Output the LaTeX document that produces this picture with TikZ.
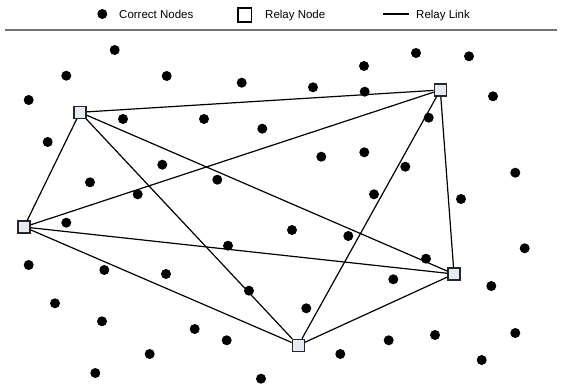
\documentclass[tikz,border=0pt]{standalone}
\usepackage{fontspec}
\setmainfont{Liberation Sans}
\begin{document}
\begin{tikzpicture}[x=1pt,y=-1pt,
  dot/.style={circle,fill=black,minimum size=10pt,inner sep=0pt},
  relay/.style={rectangle,draw=black!85,line width=1.2pt,fill={rgb,255:red,229;green,235;blue,245},minimum size=12pt,inner sep=0pt},
  legsq/.style={rectangle,draw=black,line width=1.7pt,fill=white,minimum size=13.5pt,inner sep=0pt},
  link/.style={line width=1.2pt,black},
  lab/.style={anchor=base west,inner sep=0pt,font=\fontsize{11.5}{14}\selectfont}]
\useasboundingbox (0,0) rectangle (561,387);
% legend
\node[dot] (ld) at (102.3,14) {};
\node[lab] (lt1) at (119,18.8) {Correct Nodes};
\node[legsq] (ls) at (244.7,15) {};
\node[lab] (lt2) at (265,18.8) {Relay Node};
\coordinate (la) at (383,14);
\coordinate (lb) at (409,14);
\draw[link] (la) -- (lb);
\node[lab] (lt3) at (416,18.8) {Relay Link};
\coordinate (sa) at (5,30);
\coordinate (sb) at (557,30);
\draw[line width=1.6pt,black!55] (sa) -- (sb);
% correct nodes
\foreach \x/\y [count=\i] in {114.7/50,66.3/75.7,166.7/76,241.7/82.7,28.7/100,123/119,204/119,262.3/128.7,47.7/142,162.3/164.7,90/182.3,217.3/179.7,137.7/194.3,
416/53,469/56.3,364/66,313/87.3,364.7/91.7,493/96.3,428.7/117.7,321.3/156.7,364.3/152.3,405.3/166.7,515.3/172.7,374/194.3,461/199,
66.3/222.7,228/245.7,28.7/265,104.3/270,166/274,249/290.7,55/303.3,102/321.3,194.7/329,226.7/340.3,149.7/354,95.3/373,261/378.7,
292/230,348.3/236,524.7/248.3,426/258.7,393.3/279.3,491.3/286,306.3/308.3,515.3/333,388.7/340.3,435/335,340.3/354,481.7/360}
  \node[dot] (d\i) at (\x,\y) {};
% relay nodes
\node[relay] (r1) at (80,112.3) {};
\node[relay] (r2) at (440.3,90) {};
\node[relay] (r3) at (24,227) {};
\node[relay] (r4) at (454,274) {};
\node[relay] (r5) at (298.3,345.3) {};
% relay links
\draw[link] (r1) -- (r2);
\draw[link] (r1) -- (r3);
\draw[link] (r1) -- (r4);
\draw[link] (r1) -- (r5);
\draw[link] (r2) -- (r3);
\draw[link] (r2) -- (r4);
\draw[link] (r2) -- (r5);
\draw[link] (r3) -- (r4);
\draw[link] (r3) -- (r5);
\draw[link] (r4) -- (r5);
\end{tikzpicture}
\end{document}
